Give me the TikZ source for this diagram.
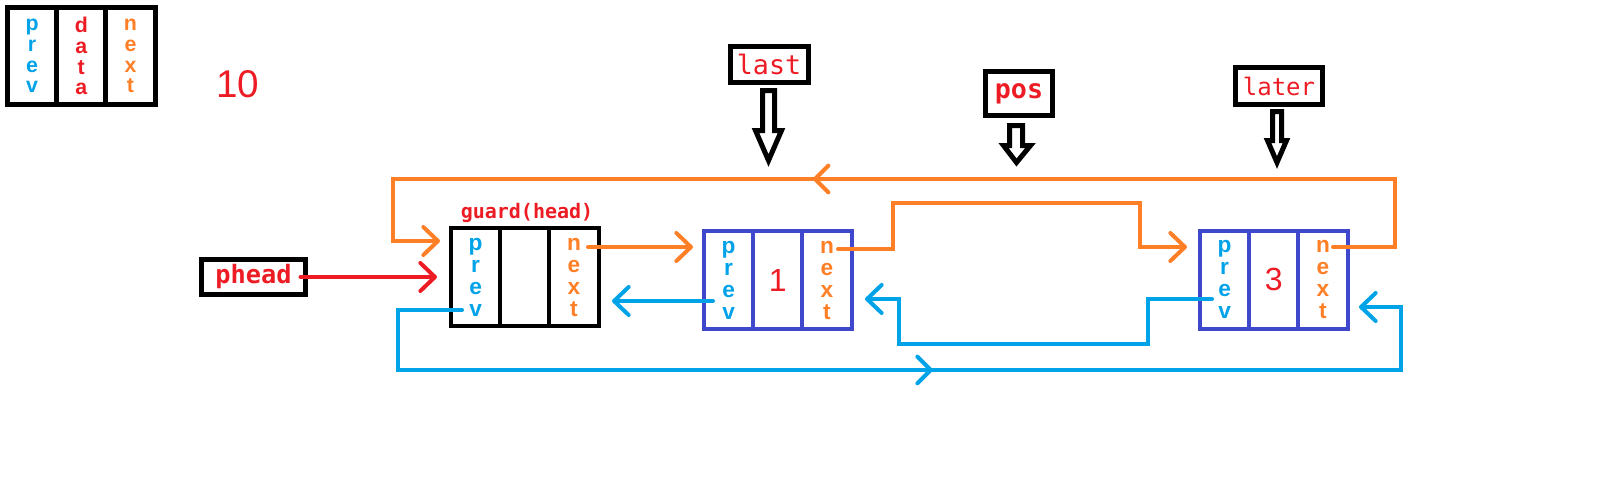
\documentclass[tikz,border=0pt]{standalone}
\usepackage{fontspec}
\setmainfont{Liberation Sans}
\newfontfamily\dvmono{DejaVu Sans Mono}
\usetikzlibrary{arrows.meta,calc,decorations.markings}
\definecolor{pred}{HTML}{ED1C24}
\definecolor{porange}{HTML}{FF7F27}
\definecolor{pblue}{HTML}{00A2E8}
\definecolor{pindigo}{HTML}{3F48CC}
\begin{document}
\begin{tikzpicture}[x=0.75pt,y=-0.75pt,
  cellbox/.style={draw, line width=3pt, minimum width=36.9pt, minimum height=73.5pt,
    inner sep=0pt, align=center, font={\fontsize{17}{16.5}\selectfont\bfseries}},
  legcell/.style={cellbox, line width=3.75pt, minimum height=72.75pt,
    font={\fontsize{16}{15.6}\selectfont\bfseries}},
  numtxt/.style={text=pred, font={\fontsize{24}{28}\selectfont}},
  conn/.style={line width=3pt, line cap=round, line join=miter,
    -{Straight Barb[length=11pt,width=21pt,round]}},
  midarrow/.style={postaction={decorate}, decoration={markings,
    mark=at position #1 with {\arrow{Straight Barb[length=10pt,width=20pt,round]}}}},
  lblbox/.style={draw, line width=3.75pt, inner sep=0pt, text=pred},
  hollow/.style={draw=black, line width=3.75pt, fill=white, line join=miter}
]
\useasboundingbox (0,0) rectangle (1611,496);

% legend
\node[legcell, text=pblue] (l1) at (32.1,56) {p\\r\\e\\v};
\node[legcell, text=pred] (l2) at (81.3,56) {d\\a\\t\\a};
\node[legcell, text=porange] (l3) at (130.5,56) {n\\e\\x\\t};
\node[text=pred, font={\fontsize{29}{34}\selectfont}] (ten) at (238,84) {10};

% guard node
\node[text=pred, font={\dvmono\fontsize{15}{18}\selectfont\bfseries}] (gtitle) at (527,213) {guard(head)};
\node[cellbox, draw=black, text=pblue] (g1) at (475.6,277) {p\\r\\e\\v};
\node[cellbox, draw=black] (g2) at (524.8,277) {};
\node[cellbox, draw=black, text=porange] (g3) at (574.0,277) {n\\e\\x\\t};

% node 1
\node[cellbox, draw=pindigo, text=pblue] (a1) at (728.6,280) {p\\r\\e\\v};
\node[cellbox, draw=pindigo, numtxt] (a2) at (777.8,280) {1};
\node[cellbox, draw=pindigo, text=porange] (a3) at (827.0,280) {n\\e\\x\\t};

% node 3
\node[cellbox, draw=pindigo, text=pblue] (b1) at (1224.6,279.5) {p\\r\\e\\v};
\node[cellbox, draw=pindigo, numtxt] (b2) at (1273.8,279.5) {3};
\node[cellbox, draw=pindigo, text=porange] (b3) at (1323.0,279.5) {n\\e\\x\\t};

% labels
\node[lblbox, minimum width=78pt, minimum height=26.25pt,
  font={\dvmono\fontsize{19}{22}\selectfont\bfseries}] (phead) at (253.5,277) {phead};
\node[lblbox, minimum width=58.5pt, minimum height=27pt,
  font={\dvmono\fontsize{20}{24}\selectfont}] (last) at (769,64) {last};
\node[lblbox, minimum width=50.25pt, minimum height=33pt,
  font={\dvmono\fontsize{20}{24}\selectfont\bfseries}] (pos) at (1019,93.5) {pos};
\node[lblbox, minimum width=65.25pt, minimum height=27.75pt,
  font={\dvmono\fontsize{18}{22}\selectfont}] (later) at (1279,86) {later};

% hollow pointer arrows
\draw[hollow] (762.5,90.5) -- (774.5,90.5) -- (774.5,130.5) -- (781.5,130.5) -- (768.5,160.5) -- (755.5,130.5) -- (762.5,130.5) -- cycle;
\draw[hollow] (1009.5,125.5) -- (1022.5,125.5) -- (1022.5,145.5) -- (1030.5,145.5) -- (1016.5,162.5) -- (1003.5,145.5) -- (1009.5,145.5) -- cycle;
\draw[hollow] (1272.5,111.5) -- (1281.5,111.5) -- (1281.5,140.5) -- (1286.5,140.5) -- (1277,162.5) -- (1267.5,140.5) -- (1272.5,140.5) -- cycle;

% connectors: next pointers
\draw[conn, porange] ($(g3.center)+(14,-30)$) -- ($(a1.west)+(-9,-33)$);
\draw[conn, porange] ($(a3.center)+(11,-31)$) -- ++(55,0) |- (1140,203) |- ($(b1.west)+(-11,-32.5)$);
\draw[conn, porange, midarrow=534pt] ($(b3.center)+(10,-32.5)$) -| (1395,179) -| (393,241) -- ($(g1.west)+(-9,-36)$);

% connectors: prev pointers
\draw[conn, pblue] ($(a1.center)+(-15.6,21)$) -- ($(g3.east)+(11.4,24)$);
\draw[conn, pblue] ($(b1.center)+(-12.6,19.5)$) -| (1148,344) -| (899,299) -- ($(a3.east)+(11.4,19)$);
\draw[conn, pblue, midarrow=494pt] ($(g1.center)+(-13.6,33)$) -| (398,370) -| (1401,307) -- ($(b3.east)+(9.4,27.5)$);

% phead pointer
\draw[conn, pred] ($(phead.east)+(-7.5,0)$) -- ($(g1.west)+(-12,0)$);
\end{tikzpicture}
\end{document}
